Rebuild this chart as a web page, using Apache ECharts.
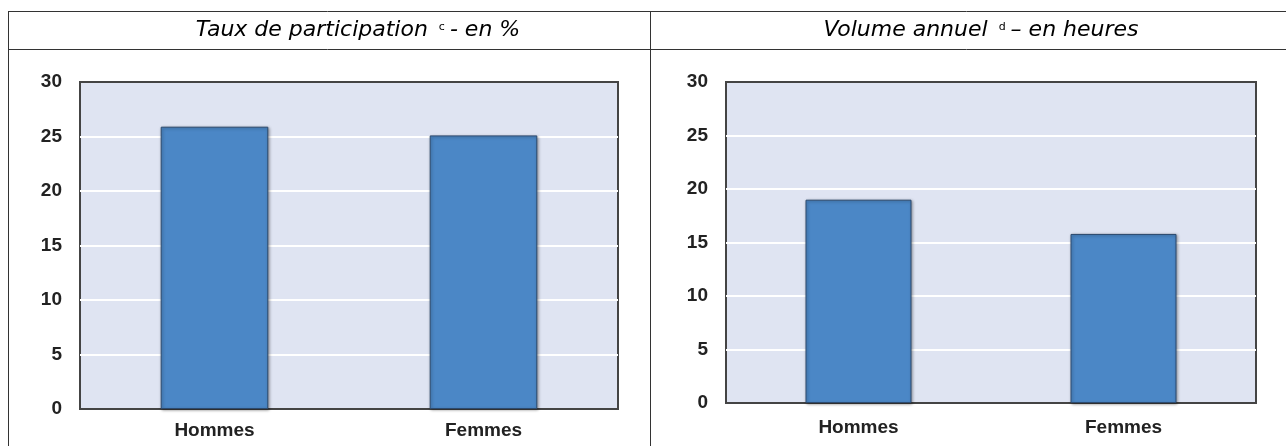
<!DOCTYPE html>
<html>
<head>
<meta charset="utf-8">
<script src="https://cdn.jsdelivr.net/npm/echarts@6/dist/echarts.min.js"></script>
<style>
html,body{margin:0;padding:0;background:#fff;}
#c{width:1286px;height:446px;}
</style>
</head>
<body>
<div id="c"></div>
<script>
var categories = ['Hommes', 'Femmes'];
var participation = [25.9, 25.1];
var volume = [19.0, 15.8];
var yTicks = [0, 5, 10, 15, 20, 25, 30];

var chart = echarts.init(document.getElementById('c'), null, {renderer: 'canvas'});

var barColor = '#4b87c6';
var gridBg = '#dfe4f2';
var labelFont = {color: '#222', fontFamily: 'Liberation Sans, Arial, sans-serif', fontSize: 19, fontWeight: 'bold'};

function yAxis(idx) {
  return {
    type: 'value', gridIndex: idx, min: yTicks[0], max: yTicks[yTicks.length - 1], interval: yTicks[1] - yTicks[0],
    axisLine: {show: false}, axisTick: {show: false},
    axisLabel: Object.assign({margin: 18}, labelFont),
    splitLine: {show: true, lineStyle: {color: ['#444', '#fff', '#fff', '#fff', '#fff', '#fff', '#444'], width: 2}}
  };
}
function xAxis(idx, margin) {
  return {
    type: 'category', gridIndex: idx, data: categories,
    axisLine: {show: false}, axisTick: {show: false},
    axisLabel: Object.assign({margin: margin}, labelFont),
    splitLine: {show: false}
  };
}
function bar(idx, data) {
  return {
    type: 'bar', xAxisIndex: idx, yAxisIndex: idx, data: data, barWidth: '40%',
    itemStyle: {color: barColor, borderColor: '#2c4a6e', borderWidth: 1,
      shadowBlur: 3, shadowColor: 'rgba(0,0,0,0.35)', shadowOffsetX: 1, shadowOffsetY: 1},
    silent: true
  };
}

var titleRich = {
  n: {fontFamily: 'DejaVu Sans, Verdana, sans-serif', fontStyle: 'italic', fontSize: 22, color: '#111', lineHeight: 28},
  s: {fontFamily: 'DejaVu Sans, Verdana, sans-serif', fontSize: 11, color: '#111', verticalAlign: 'top', lineHeight: 28, padding: [6, 5, 0, 4]}
};

var lineStyle = {stroke: '#333', lineWidth: 1};

chart.setOption({
  animation: false,
  grid: [
    {left: 80, right: 668, top: 82, bottom: 37, show: true, backgroundColor: gridBg, borderColor: '#444', borderWidth: 2},
    {left: 726, right: 30, top: 82, bottom: 43, show: true, backgroundColor: gridBg, borderColor: '#444', borderWidth: 2}
  ],
  xAxis: [xAxis(0, 12), xAxis(1, 15)],
  yAxis: [yAxis(0), yAxis(1)],
  series: [bar(0, participation), bar(1, volume)],
  graphic: [
    {type: 'line', shape: {x1: 8, y1: 11.5, x2: 1286, y2: 11.5}, style: lineStyle, silent: true},
    {type: 'line', shape: {x1: 8, y1: 49.5, x2: 1286, y2: 49.5}, style: lineStyle, silent: true},
    {type: 'line', shape: {x1: 8.5, y1: 11, x2: 8.5, y2: 446}, style: lineStyle, silent: true},
    {type: 'line', shape: {x1: 650.5, y1: 11, x2: 650.5, y2: 446}, style: lineStyle, silent: true},
    {type: 'text', x: 358, y: 30, silent: true,
      style: {text: '{n|Taux de participation }{s|c}{n|- en %}', rich: titleRich, align: 'center', verticalAlign: 'middle'}},
    {type: 'text', x: 981, y: 30, silent: true,
      style: {text: '{n|Volume annuel }{s|d}{n|– en heures}', rich: titleRich, align: 'center', verticalAlign: 'middle'}}
  ]
});
</script>
</body>
</html>
